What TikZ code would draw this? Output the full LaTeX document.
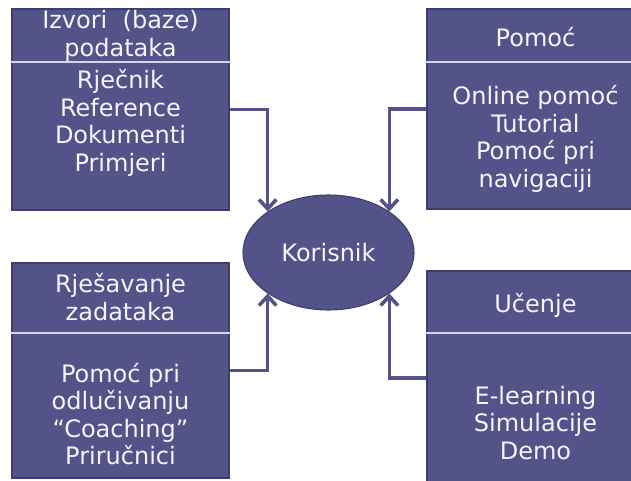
\documentclass[tikz,border=0pt]{standalone}
\usepackage{fontspec}
\setmainfont{DejaVu Sans}
\usetikzlibrary{positioning, arrows.meta, shapes.geometric}
\definecolor{cBox}{HTML}{535389}
\definecolor{cEdge}{HTML}{3E3E6C}
\definecolor{cLine}{HTML}{D4D4EA}
\definecolor{cText}{HTML}{F4F4FA}

\begin{document}
\begin{tikzpicture}[
  x=0.75pt, y=-0.75pt,
  font=\fontsize{18}{20.6}\selectfont,
  >={Straight Barb[length=7pt, width=13pt]},
  panel/.style={rectangle, fill=cBox, draw=cEdge, line width=0.8pt,
                minimum width=162.75pt, inner sep=0pt},
  label/.style={text=cText, align=center, inner sep=0pt},
  divider/.style={draw=cLine, line width=0.9pt},
  user/.style={ellipse, fill=cBox, draw=cEdge, line width=0.8pt,
               minimum width=128.25pt, minimum height=86.25pt, inner sep=0pt},
  link/.style={->, draw=cBox, line width=2.7pt},
]
\clip (0,0) rectangle (631,481);

% ====================== top left: sources ==============================
\node[panel, minimum height=150.75pt] (izvori) at (120.5,109.5) {};
\draw[divider] (izvori.west |- 0,62) -- (izvori.east |- 0,62);
\node[label] (izvoriHead) at (120.5,36) {Izvori\ \ (baze)\\podataka};
\node[label] (izvoriBody) at (120.5,123) {Rječnik\\Reference\\Dokumenti\\Primjeri};

% ====================== top right: help ================================
\node[panel, minimum height=150pt] (pomoc) at (535.5,109) {};
\draw[divider] (pomoc.west |- 0,62) -- (pomoc.east |- 0,62);
\node[label] (pomocHead) at (535.5,37) {Pomoć};
\node[label] (pomocBody) at (535.5,139) {Online pomoć\\Tutorial\\Pomoć pri\\navigaciji};

% ====================== bottom left: tasks =============================
\node[panel, minimum height=161.25pt] (zadaci) at (120.5,370.5) {};
\draw[divider] (zadaci.west |- 0,333) -- (zadaci.east |- 0,333);
\node[label] (zadaciHead) at (120.5,297) {Rješavanje\\zadataka};
\node[label] (zadaciBody) at (120.5,414) {Pomoć pri\\odlučivanju\\“Coaching”\\Priručnici};

% ====================== bottom right: learning =========================
\node[panel, minimum height=160.5pt] (ucenje) at (535.5,378) {};
\draw[divider] (ucenje.west |- 0,333) -- (ucenje.east |- 0,333);
\node[label] (ucenjeHead) at (535.5,305) {Učenje};
\node[label] (ucenjeBody) at (535.5,423) {E-learning\\Simulacije\\Demo};

% ====================== user in the middle =============================
\node[user, label] (korisnik) at (328.5,252.5) {Korisnik};

\draw[link] (izvori.east) -| (korisnik.146);
\draw[link] (pomoc.west) -| (korisnik.34);
\draw[link] (zadaci.east) -| (korisnik.214);
\draw[link] (ucenje.west) -| (korisnik.326);

\end{tikzpicture}
\end{document}
